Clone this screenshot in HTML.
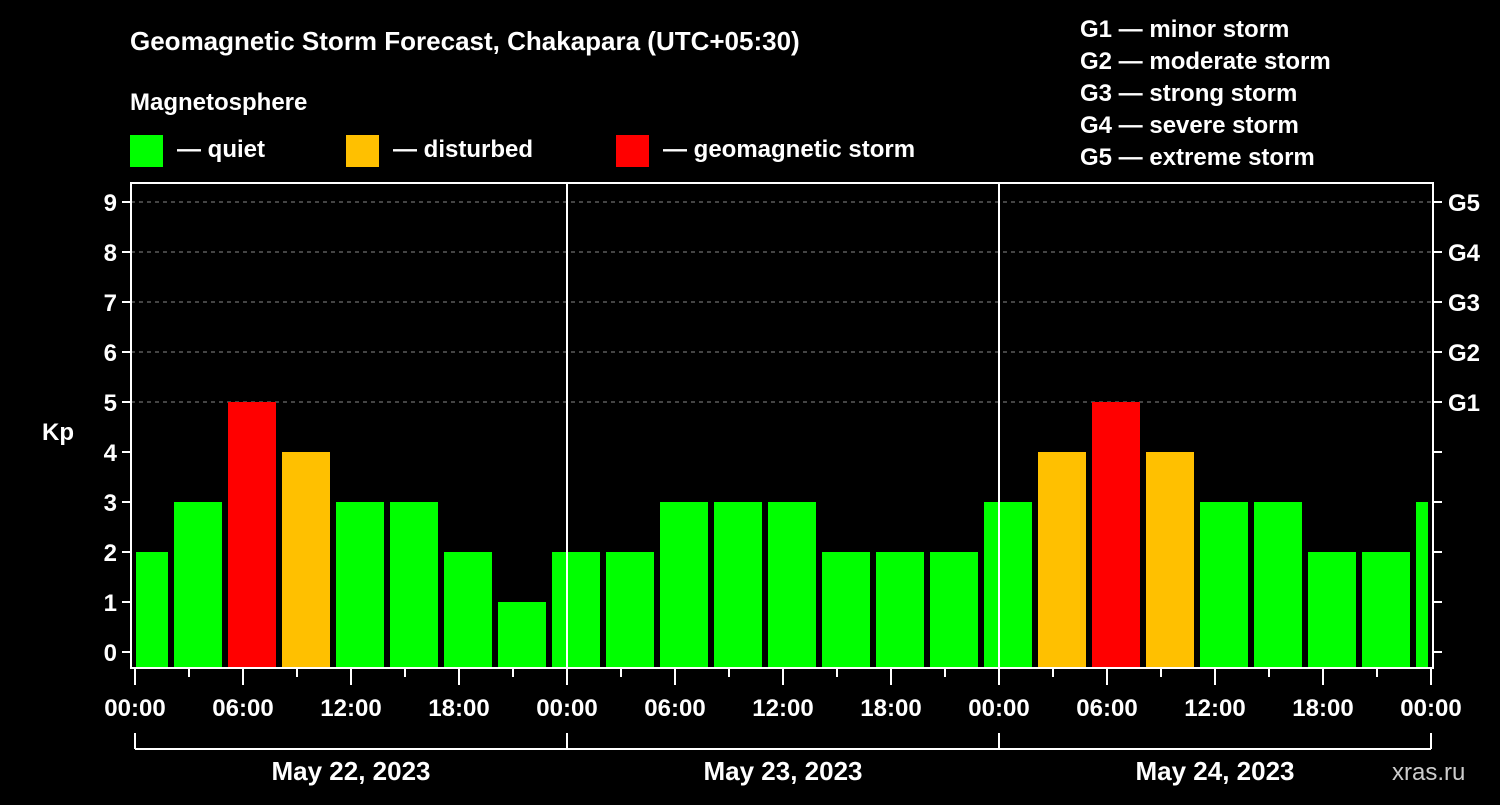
<!DOCTYPE html>
<html><head><meta charset="utf-8"><style>
body{margin:0;background:#000;}
svg text{font-family:"Liberation Sans",Arial,sans-serif;font-weight:bold;fill:#fff;}
</style></head><body>
<svg id="c" width="1500" height="800" xmlns="http://www.w3.org/2000/svg">
<rect width="1500" height="800" fill="#000"/>
<text x="130" y="50" font-size="26">Geomagnetic Storm Forecast, Chakapara (UTC+05:30)</text>
<text x="130" y="110" font-size="24">Magnetosphere</text>
<g>
<rect x="130" y="135" width="33" height="32" fill="#00ff00"/>
<text x="177" y="157" font-size="24">— quiet</text>
<rect x="346" y="135" width="33" height="32" fill="#ffc000"/>
<text x="393" y="157" font-size="24">— disturbed</text>
<rect x="616" y="135" width="33" height="32" fill="#ff0000"/>
<text x="663" y="157" font-size="24">— geomagnetic storm</text>
</g>
<g font-size="24">
<text x="1080" y="37">G1 — minor storm</text>
<text x="1080" y="69">G2 — moderate storm</text>
<text x="1080" y="101">G3 — strong storm</text>
<text x="1080" y="133">G4 — severe storm</text>
<text x="1080" y="165">G5 — extreme storm</text>
</g>
<text x="42" y="440" font-size="24">Kp</text>
<text x="1392" y="780" font-size="24" fill="#ccc" style="fill:#ccc;font-weight:normal">xras.ru</text>
<g id="plot"></g>
</svg>
<script>
const kpValues=[2,3,5,4,3,3,2,1,2,2,3,3,3,2,2,2,3,4,5,4,3,3,2,2,3];
const binStartHour=-1;
const yTicks=[0,1,2,3,4,5,6,7,8,9];
const gLabels=["G1","G2","G3","G4","G5"];
const xTickLabels=["00:00","06:00","12:00","18:00","00:00","06:00","12:00","18:00","00:00","06:00","12:00","18:00","00:00"];
const dayLabels=["May 22, 2023","May 23, 2023","May 24, 2023"];

const NS="http://www.w3.org/2000/svg";
const plot=document.getElementById('plot');
const L=131,R=1433,T=183,B=668;
const x0=135,pxH=18,totalH=72;
function xs(h){return x0+h*pxH;}
function ys(v){return 652-v*50;}
function mk(tag,attrs){const e=document.createElementNS(NS,tag);for(const k in attrs)e.setAttribute(k,attrs[k]);plot.appendChild(e);return e;}
function color(v){return v>=5?"#ff0000":(v>=4?"#ffc000":"#00ff00");}

// grid
[5,6,7,8,9].forEach(v=>{const l=mk('line',{x1:L,x2:R,y1:ys(v),y2:ys(v),stroke:'#888','stroke-dasharray':'4,4','stroke-width':1});

});
// bars
kpValues.forEach((v,i)=>{
  let s=binStartHour+i*3,e=s+3;
  let a=Math.max(xs(s),xs(0))+ (s<0?1:3), b=Math.min(xs(e),xs(totalH))-3;
  if(b<=a)return;
  const r=mk('rect',{x:a,y:ys(v),width:b-a,height:B-1-ys(v),fill:color(v)});
  
  
});
// day separators
[24,48].forEach(h=>{const l=mk('line',{x1:xs(h),x2:xs(h),y1:T,y2:B,stroke:'#fff','stroke-width':2});

});
// frame
const f=mk('rect',{x:L,y:T,width:R-L,height:B-T,fill:'none',stroke:'#fff','stroke-width':2});


// y ticks
yTicks.forEach(v=>{
  mk('line',{x1:L-9,x2:L,y1:ys(v),y2:ys(v),stroke:'#fff','stroke-width':2});
  mk('line',{x1:R,x2:R+9,y1:ys(v),y2:ys(v),stroke:'#fff','stroke-width':2});
  const t=mk('text',{x:L-14,y:ys(v)+9,'font-size':24,'text-anchor':'end'});t.textContent=v;
  
  
});
gLabels.forEach((g,i)=>{const t=mk('text',{x:R+15,y:ys(5+i)+9,'font-size':24});t.textContent=g;

});
// x ticks
for(let h=0;h<=totalH;h+=3){const major=h%6===0;mk('line',{x1:xs(h),x2:xs(h),y1:B,y2:B+(major?17:9),stroke:'#fff','stroke-width':2});}
xTickLabels.forEach((lab,i)=>{const t=mk('text',{x:xs(i*6),y:716,'font-size':24,'text-anchor':'middle'});t.textContent=lab;

});
// date bracket
mk('line',{x1:xs(0),x2:xs(totalH),y1:749,y2:749,stroke:'#fff','stroke-width':2});
[0,24,48,72].forEach(h=>mk('line',{x1:xs(h),x2:xs(h),y1:733,y2:749,stroke:'#fff','stroke-width':2}));
dayLabels.forEach((d,i)=>{const t=mk('text',{x:xs(i*24+12),y:780,'font-size':26,'text-anchor':'middle'});t.textContent=d;

});
</script>
</body></html>
